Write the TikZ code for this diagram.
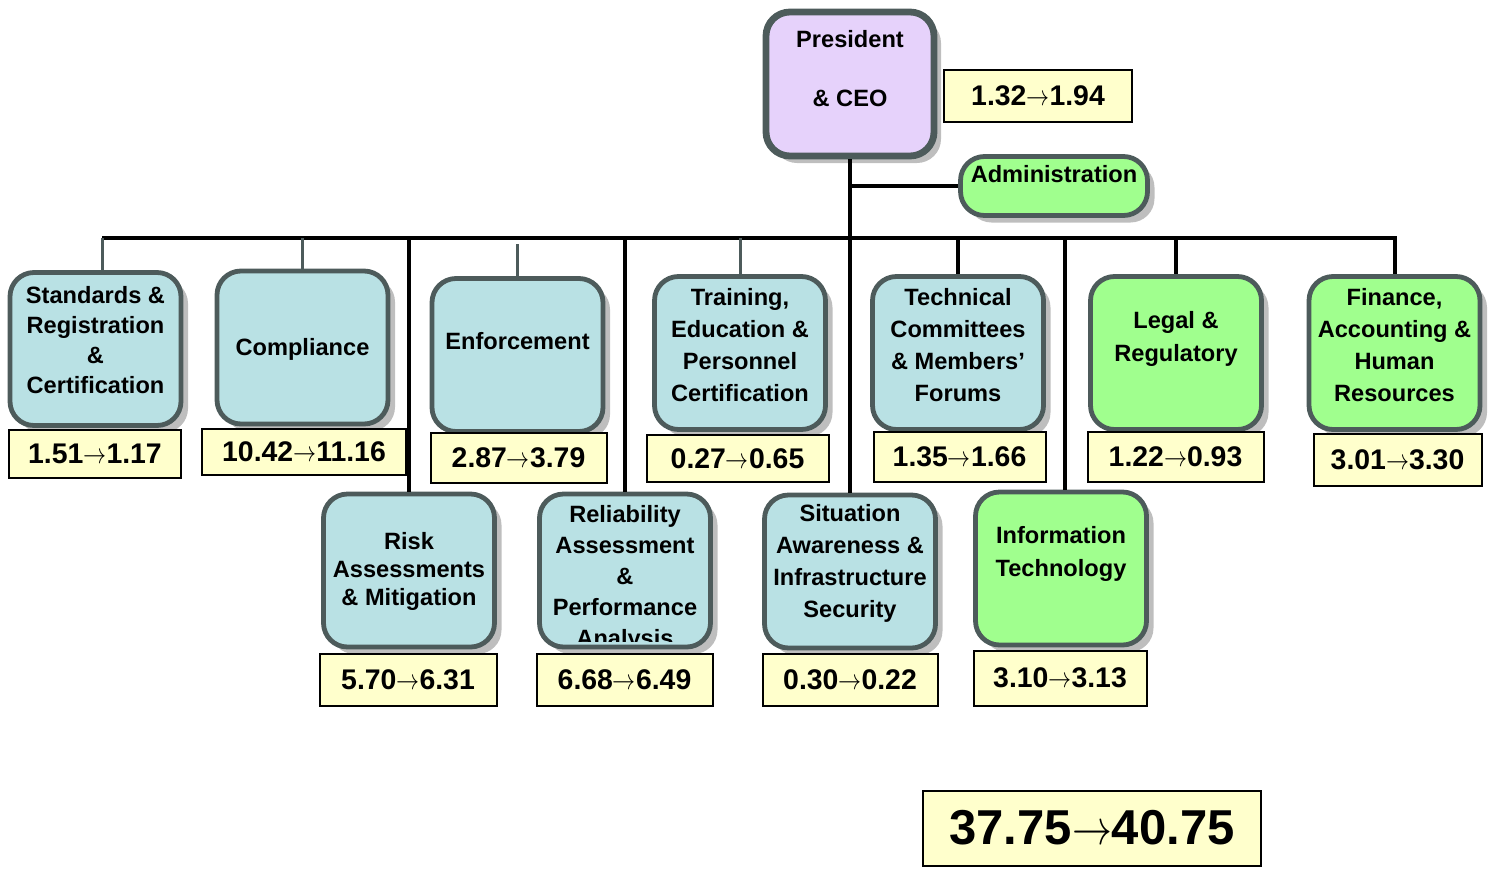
\documentclass[tikz,border=0pt]{standalone}
\usepackage{fontspec}
\setmainfont{Liberation Sans}
\usepackage{graphicx}
\usepackage{tikz}
\usetikzlibrary{shadows,calc}
\definecolor{edgeSlate}{HTML}{4D5B5B}
\definecolor{unitTeal}{HTML}{B9E1E4}
\definecolor{unitLime}{HTML}{A0FF8E}
\definecolor{ceoLilac}{HTML}{E6D2FB}
\definecolor{budgetYellow}{HTML}{FFFFCC}
\definecolor{shadowGray}{HTML}{BEBEBE}
\newcommand{\arr}{\scalebox{0.8}[1]{$\rightarrow$}}

\begin{document}
\begin{tikzpicture}[x=0.5pt, y=-0.5pt,
    unitbox/.style={draw=edgeSlate, line width=2.4pt, rounded corners=12pt, minimum width=85.5pt, minimum height=76.5pt, inner sep=0pt,
      drop shadow={shadow xshift=3.5pt, shadow yshift=-3.5pt, fill=shadowGray, opacity=1}},
    ulabel/.style={align=center, inner sep=0pt, font=\fontsize{11.8}{15.5}\selectfont\bfseries},
    budgetbox/.style={draw, line width=1pt, fill=budgetYellow, minimum height=24pt, inner sep=0pt, font=\fontsize{14.2}{16}\selectfont\bfseries},
    busline/.style={line width=2pt},
    stubline/.style={draw=edgeSlate, line width=1.5pt},
  ]
  \useasboundingbox (0,0) rectangle (1497,868);

  % president and administration
  \node[unitbox, fill=ceoLilac, line width=3.4pt, minimum width=84pt, minimum height=72pt] (ceo) at (850,84) {};
  \node[ulabel] (ceoT) at (850,69) {President\\[14pt]\& CEO};
  \node[budgetbox, minimum width=94pt, minimum height=26pt] (ceoB) at (1038,96) {1.32\arr1.94};
  \node[unitbox, fill=unitLime, minimum width=93.5pt, minimum height=29.5pt] (adm) at (1054,186) {};
  \node[ulabel] (admT) at (1054,174) {Administration};

  % first row
  \node[unitbox, fill=unitTeal] (std) at (95.5,349) {};
  \node[ulabel, font=\fontsize{11.8}{15}\selectfont\bfseries] (stdT) at (95.5,340) {Standards \&\\Registration\\\&\\Certification};
  \node[unitbox, fill=unitTeal] (cmp) at (302.5,347.5) {};
  \node[ulabel] (cmpT) at (302.5,349) {Compliance};
  \node[unitbox, fill=unitTeal] (enf) at (517.5,355) {};
  \node[ulabel] (enfT) at (517.5,341) {Enforcement};
  \node[unitbox, fill=unitTeal] (trn) at (740,353) {};
  \node[ulabel, font=\fontsize{11.8}{16}\selectfont\bfseries] (trnT) at (740,345.5) {Training,\\Education \&\\Personnel\\Certification};
  \node[unitbox, fill=unitTeal] (tec) at (958,353) {};
  \node[ulabel, font=\fontsize{11.8}{16}\selectfont\bfseries] (tecT) at (958,345.5) {Technical\\Committees\\\& Members’\\Forums};
  \node[unitbox, fill=unitLime] (leg) at (1176,353) {};
  \node[ulabel, font=\fontsize{11.8}{16.5}\selectfont\bfseries] (legT) at (1176,338.5) {Legal \&\\Regulatory};
  \node[unitbox, fill=unitLime] (fin) at (1394.5,353) {};
  \node[ulabel, font=\fontsize{11.8}{16}\selectfont\bfseries] (finT) at (1394.5,345.5) {Finance,\\Accounting \&\\Human\\Resources};

  % second row
  \node[unitbox, fill=unitTeal] (risk) at (409,570.5) {};
  \node[ulabel, font=\fontsize{11.8}{14}\selectfont\bfseries] (riskT) at (409,571) {Risk\\Assessments\\\& Mitigation};
  \node[unitbox, fill=unitTeal] (rel) at (625,570.5) {};
  \begin{scope}
    \clip[rounded corners=9pt] ([shift={(1.2pt,3.8pt)}]rel.south west) rectangle ([shift={(-1.2pt,-1.2pt)}]rel.north east);
    \node[ulabel] (relT) at (625,578) {Reliability\\Assessment\\\&\\Performance\\Analysis};
  \end{scope}
  \node[unitbox, fill=unitTeal] (sit) at (850,571.5) {};
  \node[ulabel, font=\fontsize{11.8}{16}\selectfont\bfseries] (sitT) at (850,563.5) {Situation\\Awareness \&\\Infrastructure\\Security};
  \node[unitbox, fill=unitLime] (it) at (1061,568.5) {};
  \node[ulabel, font=\fontsize{11.8}{16.5}\selectfont\bfseries] (itT) at (1061,553.5) {Information\\Technology};

  % budgets
  \node[budgetbox, minimum width=86pt] (stdB) at (95,454) {1.51\arr1.17};
  \node[budgetbox, minimum width=102pt, minimum height=23pt] (cmpB) at (304,452) {10.42\arr11.16};
  \node[budgetbox, minimum width=88pt, minimum height=25pt] (enfB) at (518.5,458) {2.87\arr3.79};
  \node[budgetbox, minimum width=91pt, minimum height=23.5pt] (trnB) at (737.5,458.5) {0.27\arr0.65};
  \node[budgetbox, minimum width=86pt, minimum height=25pt] (tecB) at (959.5,457) {1.35\arr1.66};
  \node[budgetbox, minimum width=88pt, minimum height=25pt] (legB) at (1175.5,457) {1.22\arr0.93};
  \node[budgetbox, minimum width=84pt, minimum height=26pt] (finB) at (1397.5,460) {3.01\arr3.30};
  \node[budgetbox, minimum width=88.5pt, minimum height=26pt] (riskB) at (408,679.5) {5.70\arr6.31};
  \node[budgetbox, minimum width=88pt, minimum height=26pt] (relB) at (624.5,679.5) {6.68\arr6.49};
  \node[budgetbox, minimum width=87.5pt, minimum height=26pt] (sitB) at (850,679.5) {0.30\arr0.22};
  \node[budgetbox, minimum width=86.5pt, minimum height=27.5pt] (itB) at (1060,678) {3.10\arr3.13};
  \node[budgetbox, minimum width=169pt, minimum height=37.5pt, font=\fontsize{24.5}{28}\selectfont\bfseries] (total) at (1092,828) {37.75\arr40.75};

  % reporting lines
  \coordinate (busW) at (102,238);
  \draw[busline] (ceo.south) -- (sit.north);
  \draw[busline] (ceo.south |- adm.west) -- (adm.west);
  \draw[busline] (busW) -| (fin.north);
  \draw[stubline] (busW) -- (busW |- std.north);
  \draw[stubline] (cmp.north |- busW) -- (cmp.north);
  \draw[stubline] ($(enf.north |- busW)+(0,6)$) -- (enf.north);
  \draw[stubline] (trn.north |- busW) -- (trn.north);
  \draw[busline] (tec.north |- busW) -- (tec.north);
  \draw[busline] (leg.north |- busW) -- (leg.north);
  \draw[busline] (risk.north |- busW) -- (risk.north);
  \draw[busline] (rel.north |- busW) -- (rel.north);
  \draw[busline] ($(it.north |- busW)+(4,0)$) -- ($(it.north)+(4,0)$);
\end{tikzpicture}
\end{document}
